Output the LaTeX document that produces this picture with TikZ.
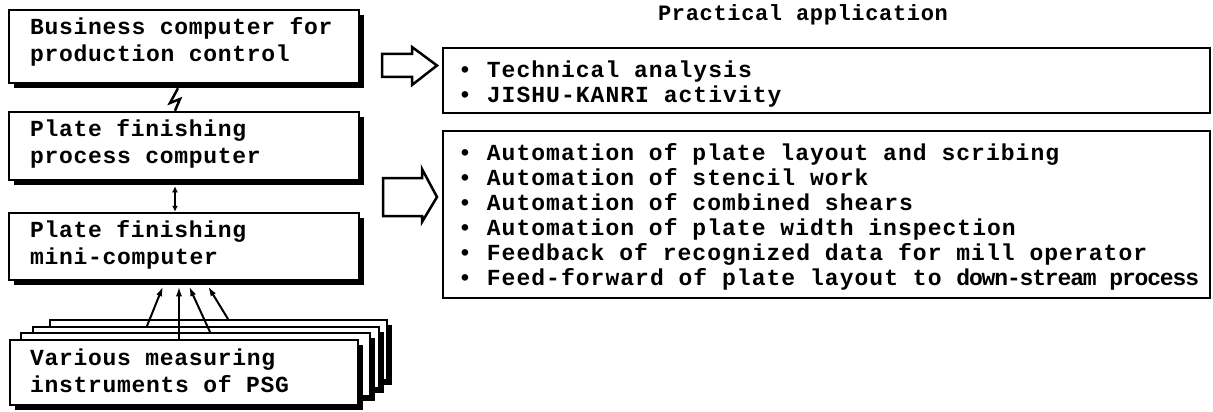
\documentclass[tikz,border=0pt]{standalone}
\usepackage{fontspec}
\newfontfamily\tw[LetterSpace=3]{Liberation Mono}
\newfontfamily\rw[LetterSpace=4.5]{Liberation Mono}
\newfontfamily\rwn[LetterSpace=-5]{Liberation Mono}
\usetikzlibrary{shadows,arrows.meta,calc}
\begin{document}
\begin{tikzpicture}[x=1pt,y=-1pt,
  cbox/.style={draw, line width=2.5pt, fill=white, rectangle, inner sep=0pt,
    general shadow={fill=black, shadow xshift=5pt, shadow yshift=-5pt}},
  layerbox/.style={cbox, line width=2pt},
  abox/.style={draw, line width=2.2pt, rectangle, inner sep=0pt},
  ltxt/.style={anchor=west, align=left, inner sep=0pt, font=\tw\bfseries\fontsize{23}{27}\selectfont},
  rtxt/.style={anchor=west, align=left, inner sep=0pt, font=\rw\bfseries\fontsize{23}{25}\selectfont},
  hollow/.style={draw, line width=2.5pt, line join=miter},
  meas/.style={line width=2pt, -{Latex[length=10pt,width=6pt]}},
  link/.style={line width=2.5pt},
]
\useasboundingbox (0,0) rectangle (1213,412);
% left computer boxes
\node[cbox, minimum width=350pt, minimum height=73pt] (b1) at (184,46.5) {};
\node[cbox, minimum width=350pt, minimum height=68pt] (b2) at (184,146) {};
\node[cbox, minimum width=350pt, minimum height=67pt] (b3) at (184,246.5) {};
% stacked instruments
\node[layerbox, minimum width=337pt, minimum height=60pt] (l3) at (218.5,350) {};
\node[layerbox, minimum width=346pt, minimum height=61pt] (l2) at (206,357.5) {};
\node[layerbox, minimum width=349pt, minimum height=63pt] (l1) at (195.5,364.5) {};
\node[cbox, minimum width=348pt, minimum height=65pt] (b4) at (184,372.5) {};
% texts
\node[ltxt] (t1) at (30,41.5) {Business computer for\\production control};
\node[ltxt] (t2) at (30,143.5) {Plate finishing\\process computer};
\node[ltxt] (t3) at (30,244.5) {Plate finishing\\mini-computer};
\node[ltxt] (t4) at (30,371) {Various measuring\\instruments of PSG};
% connectors
\coordinate (lx) at (175,0);
\draw[link, line join=miter] ($(b1.south -| lx)+(3,4)$) -- (170,103) -- (180,99) -- (b2.north -| lx);
\draw[link, line width=2pt, {Latex[length=6pt,width=6pt]}-{Latex[length=6pt,width=6pt]}] ($(b2.south -| lx)+(0,5)$) -- (b3.north -| lx);
\draw[meas] (l2.north -| 147,0) -- ($(b3.south -| 163,0)+(0,5)$);
\draw[meas] (b4.north -| 179,0) -- ($(b3.south -| 179,0)+(0,5)$);
\draw[meas] (l1.north -| 210,0) -- ($(b3.south -| 189,0)+(0,5)$);
\draw[meas] (l3.north -| 228,0) -- ($(b3.south -| 208,0)+(0,5)$);
% right side
\node[font=\tw\bfseries\fontsize{22}{22}\selectfont] (title) at (803,15) {Practical application};
\node[abox, minimum width=767pt, minimum height=65pt] (ra) at (826.5,80.5) {};
\node[abox, minimum width=767pt, minimum height=167pt] (rb) at (826.5,214.5) {};
\node[rtxt] (ta) at (458,84) {• Technical analysis\\• JISHU-KANRI activity};
\node[rtxt] (tb) at (458,217) {• Automation of plate layout and scribing\\
• Automation of stencil work\\
• Automation of combined shears\\
• Automation of plate width inspection\\
• Feedback of recognized data for mill operator\\
• Feed-forward of plate layout to {\rwn\bfseries\fontsize{23}{25}\selectfont down-stream process}};
% hollow arrows
\draw[hollow] (382,54) -- (412,54) -- (412,47) -- (437,65.5) -- (412,85) -- (412,77) -- (382,77) -- cycle;
\draw[hollow] (383,178) -- (422,178) -- (422,169) -- (437,197) -- (422,222) -- (422,216) -- (383,216) -- cycle;
\end{tikzpicture}
\end{document}
